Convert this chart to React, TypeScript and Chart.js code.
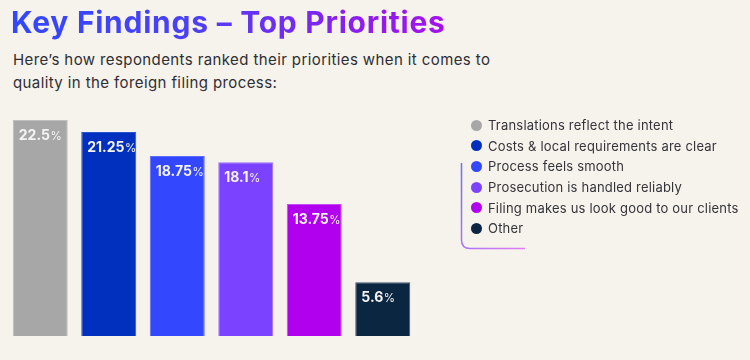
import React, { useEffect, useRef } from "react";
import { Chart, registerables } from "chart.js";

Chart.register(...registerables);

const categories = [
  "Translations reflect the intent",
  "Costs & local requirements are clear",
  "Process feels smooth",
  "Prosecution is handled reliably",
  "Filing makes us look good to our clients",
  "Other",
];
const values = [22.5, 21.25, 18.75, 18.1, 13.75, 5.6];
const valueLabels = ["22.5", "21.25", "18.75", "18.1", "13.75", "5.6"];
const colors = ["#A7A7A7", "#0230BE", "#3347FF", "#7B43FF", "#B000EE", "#0B2640"];
const borders = ["#BFBFBF", "#2A52D6", "#5A6BFF", "#9A70FF", "#C44AF5", "#3A5570"];

const labelPlugin = {
  id: "barLabels",
  afterDatasetsDraw(chart: any) {
    const ctx = chart.ctx;
    const meta = chart.getDatasetMeta(0);
    ctx.save();
    ctx.fillStyle = "#F4F4F4";
    ctx.textBaseline = "alphabetic";
    ctx.textAlign = "left";
    meta.data.forEach((bar: any, i: number) => {
      const left = bar.x - bar.width / 2 + 6;
      const y = bar.y + 20;
      ctx.font = "bold 14px Inter, 'Open Sans', sans-serif";
      ctx.fillText(valueLabels[i], left, y);
      const w = ctx.measureText(valueLabels[i]).width;
      ctx.font = "11.5px Inter, 'Open Sans', sans-serif";
      ctx.fillText("%", left + w + 0.5, y);
    });
    ctx.restore();
  },
};

export default function App() {
  const ref = useRef<HTMLCanvasElement | null>(null);
  useEffect(() => {
    document.body.style.margin = "0";
    const chart = new Chart(ref.current as HTMLCanvasElement, {
      type: "bar",
      data: {
        labels: categories,
        datasets: [
          {
            data: values,
            backgroundColor: colors,
            borderColor: borders,
            borderWidth: 1,
            barPercentage: 0.9,
            categoryPercentage: 0.892,
          },
        ],
      },
      options: {
        animation: false,
        responsive: false,
        maintainAspectRatio: false,
        layout: { padding: { left: 6, right: 333, top: 120, bottom: 24 } },
        plugins: { legend: { display: false }, tooltip: { enabled: false }, title: { display: false } },
        scales: {
          x: { display: false },
          y: { display: false, min: 0, max: 22.5 },
        },
      },
      plugins: [labelPlugin],
    });
    return () => chart.destroy();
  }, []);

  const font = "Inter, 'Open Sans', sans-serif";
  return (
    <div style={{ position: "fixed", left: 0, top: 0, width: 750, height: 360, background: "#F6F2EC", overflow: "hidden", fontFamily: font }}>
      <div
        style={{
          position: "absolute",
          left: 11,
          top: 2,
          fontSize: 30,
          fontWeight: 700,
          letterSpacing: 0.75,
          whiteSpace: "nowrap",
          background: "linear-gradient(90deg, #3048FF 0%, #4A40F8 40%, #8A1EF0 78%, #A412EE 100%)",
          WebkitBackgroundClip: "text",
          backgroundClip: "text",
          color: "transparent",
          lineHeight: "40px",
        }}
      >
        Key Findings – Top Priorities
      </div>
      <div style={{ position: "absolute", left: 13, top: 48, fontSize: 15, letterSpacing: 0.4, color: "#2E2E33", lineHeight: "23px", width: 520, whiteSpace: "nowrap" }}>
        Here’s how respondents ranked their priorities when it comes to
        <br />
        quality in the foreign filing process:
      </div>
      <canvas ref={ref} width={750} height={360} style={{ position: "absolute", left: 0, top: 0 }} />
      <svg width={750} height={360} style={{ position: "absolute", left: 0, top: 0 }}>
        <defs>
          <linearGradient id="lg" x1="0" y1="0" x2="1" y2="1">
            <stop offset="0" stopColor="#6E6BFF" />
            <stop offset="1" stopColor="#E57CF2" />
          </linearGradient>
        </defs>
        <path d="M461.5 163 L461.5 240 Q461.5 248.5 470 248.5 L525 248.5" fill="none" stroke="url(#lg)" strokeWidth={1.5} />
      </svg>
      <div style={{ position: "absolute", left: 471, top: 115 }}>
        {categories.map((c, i) => (
          <div key={c} style={{ display: "flex", alignItems: "center", height: 20.6, fontSize: 13, letterSpacing: 0.2, color: "#34343A", whiteSpace: "nowrap" }}>
            <span style={{ display: "inline-block", width: 11, height: 11, borderRadius: "50%", background: colors[i], marginRight: 6 }} />
            {c}
          </div>
        ))}
      </div>
    </div>
  );
}
